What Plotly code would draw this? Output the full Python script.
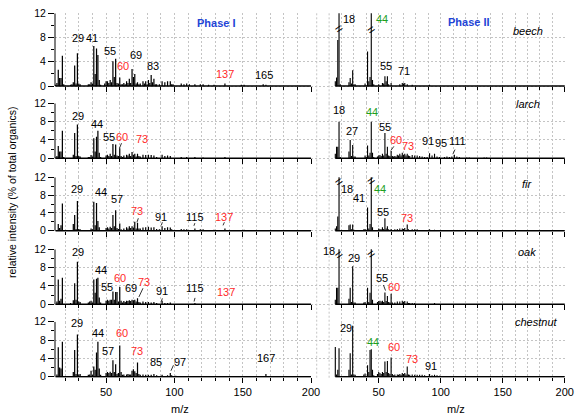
import plotly.graph_objects as go

W, H = 576, 417

# ---------------- data: m/z and relative intensity (% of total organics) ----------------
mz_beech_I = [13, 14, 15, 16, 17, 18, 19, 24, 25, 26, 27, 28, 29, 30, 31, 37, 38, 39, 40, 41, 42, 43, 44, 45, 46,
              49, 50, 51, 52, 53, 54, 55, 56, 57, 58, 59, 60, 61, 62, 63, 64, 65, 66, 67, 68, 69, 70, 71, 72, 73,
              74, 75, 77, 78, 79, 80, 81, 82, 83, 84, 85, 86, 87, 89, 91, 93, 95, 97, 98, 99, 105, 107, 109, 111,
              115, 119, 121, 125, 129, 137, 149, 151, 165, 167]
int_beech_I = [0.2, 0.5, 2.7, 1.3, 1.3, 5.0, 0.3, 0.2, 0.3, 0.6, 3.4, 0.4, 5.4, 0.4, 0.3, 0.3, 0.3, 0.6, 0.4, 6.6,
               2.0, 6.2, 5.1, 1.0, 0.2, 0.4, 0.8, 0.8, 0.5, 1.0, 0.6, 4.1, 1.5, 4.5, 0.5, 0.4, 1.4, 0.3, 0.3, 0.5,
               0.3, 0.8, 0.5, 1.2, 0.5, 2.8, 1.5, 2.0, 0.4, 0.6, 0.3, 0.4, 0.8, 0.4, 0.8, 0.3, 1.0, 0.5, 1.8, 0.6,
               1.2, 0.3, 0.3, 0.3, 0.8, 0.6, 0.8, 0.8, 0.3, 0.3, 0.4, 0.3, 0.4, 0.3, 0.3, 0.3, 0.3, 0.2, 0.2, 0.4,
               0.2, 0.2, 0.3, 0.2]

mz_larch_I = [13, 14, 15, 16, 17, 18, 19, 26, 27, 28, 29, 30, 31, 37, 38, 39, 40, 41, 42, 43, 44, 45, 46, 50, 51,
              52, 53, 54, 55, 56, 57, 58, 59, 60, 61, 62, 63, 65, 66, 67, 68, 69, 70, 71, 72, 73, 74, 75, 77, 79,
              81, 83, 85, 87, 91, 93, 95, 97, 105, 109, 115, 121, 137]
int_larch_I = [0.2, 0.5, 2.7, 1.5, 1.5, 6.0, 0.3, 0.8, 5.5, 0.5, 7.4, 0.5, 0.4, 0.3, 0.3, 0.7, 0.4, 4.4, 1.5, 4.7,
               6.0, 1.2, 0.3, 0.6, 0.8, 0.5, 1.0, 0.5, 3.1, 0.8, 3.0, 0.6, 0.5, 2.2, 0.5, 0.3, 0.6, 0.8, 0.6, 1.0,
               0.5, 1.4, 0.8, 1.0, 0.4, 1.0, 0.5, 0.4, 0.8, 0.7, 0.8, 0.7, 0.6, 0.3, 0.8, 0.5, 0.6, 0.5, 0.3, 0.3,
               0.3, 0.2, 0.3]

mz_fir_I = [15, 16, 17, 18, 26, 27, 28, 29, 30, 31, 39, 40, 41, 42, 43, 44, 45, 50, 51, 52, 53, 54, 55, 56, 57,
            58, 59, 60, 61, 63, 65, 66, 67, 68, 69, 70, 71, 72, 73, 74, 75, 77, 79, 81, 83, 85, 87, 89, 91, 93,
            95, 97, 98, 105, 107, 109, 115, 119, 121, 129, 137, 151]
int_fir_I = [1.5, 0.6, 1.2, 6.1, 1.5, 3.5, 0.4, 6.7, 0.4, 0.3, 0.5, 0.3, 6.5, 1.2, 6.2, 2.2, 0.8, 0.6, 0.8, 0.5,
             0.9, 0.6, 3.5, 1.0, 4.6, 0.6, 0.4, 1.6, 0.3, 0.5, 0.8, 0.5, 1.0, 0.6, 1.0, 0.7, 2.0, 0.5, 1.8, 0.5,
             0.5, 0.7, 0.8, 0.9, 0.7, 0.8, 0.4, 0.3, 1.0, 0.6, 0.8, 0.7, 0.3, 0.4, 0.3, 0.3, 0.5, 0.3, 0.3, 0.2,
             0.5, 0.2]

mz_oak_I = [14, 15, 16, 17, 18, 24, 26, 27, 28, 29, 30, 31, 37, 38, 39, 40, 41, 42, 43, 44, 45, 46, 50, 51, 52,
            53, 54, 55, 56, 57, 58, 59, 60, 61, 62, 63, 64, 65, 66, 67, 68, 69, 70, 71, 72, 73, 74, 75, 77, 79,
            81, 83, 85, 87, 91, 93, 95, 97, 115]
int_oak_I = [0.6, 5.4, 0.8, 1.2, 5.8, 0.3, 0.9, 4.6, 1.0, 9.3, 0.6, 0.5, 0.4, 0.6, 0.8, 0.4, 5.4, 2.5, 5.6, 5.8,
             1.5, 0.4, 0.8, 1.0, 0.8, 1.0, 1.0, 2.8, 1.0, 2.7, 2.7, 0.6, 3.8, 0.8, 0.4, 0.7, 0.5, 0.8, 0.7, 0.9,
             0.7, 1.0, 0.9, 1.0, 0.6, 1.3, 0.5, 0.4, 0.6, 0.5, 0.5, 0.4, 0.5, 0.3, 0.8, 0.3, 0.3, 0.4, 0.3]

mz_chestnut_I = [14, 15, 16, 17, 18, 26, 27, 28, 29, 30, 31, 37, 38, 39, 40, 41, 42, 43, 44, 45, 46, 50, 51, 52,
                 53, 54, 55, 56, 57, 58, 59, 60, 61, 62, 63, 65, 66, 67, 68, 69, 70, 71, 72, 73, 74, 75, 77, 79,
                 81, 83, 85, 87, 91, 95, 97, 98, 101, 167]
int_chestnut_I = [0.5, 6.4, 2.0, 1.8, 7.6, 1.0, 5.8, 0.6, 9.2, 0.5, 0.6, 0.4, 0.5, 1.3, 0.4, 2.2, 1.5, 5.3, 7.6,
                  1.8, 0.4, 0.8, 1.0, 0.8, 1.1, 0.8, 3.6, 1.0, 2.7, 0.6, 0.8, 6.8, 1.0, 0.4, 0.5, 0.5, 0.6, 0.5,
                  0.5, 1.3, 1.6, 1.2, 0.8, 3.1, 0.6, 0.4, 0.5, 0.4, 0.4, 0.4, 0.6, 0.3, 0.4, 0.3, 0.8, 0.3, 0.2,
                  0.6]

mz_beech_II = [15, 16, 17, 18, 19, 26, 27, 28, 29, 30, 31, 39, 41, 42, 43, 44, 45, 46, 50, 53, 54, 55, 56, 57,
               58, 60, 67, 69, 70, 71, 73, 77, 91]
int_beech_II = [0.8, 1.4, 7.6, 30.0, 0.3, 0.6, 1.3, 0.4, 2.6, 0.3, 0.3, 0.4, 5.7, 0.8, 1.5, 30.0, 1.0, 0.3, 0.3,
                0.5, 0.4, 1.6, 0.8, 1.6, 0.3, 0.5, 0.3, 0.5, 0.4, 0.5, 0.3, 0.2, 0.2]

mz_larch_II = [15, 16, 17, 18, 19, 26, 27, 28, 29, 30, 31, 39, 40, 41, 42, 43, 44, 45, 46, 49, 50, 51, 52, 53,
               54, 55, 56, 57, 58, 59, 60, 61, 62, 63, 64, 65, 66, 67, 68, 69, 70, 71, 72, 73, 74, 75, 77, 79,
               81, 83, 85, 87, 89, 91, 93, 95, 97, 99, 103, 105, 107, 109, 111, 113, 115, 121, 123, 135, 137]
int_larch_II = [1.0, 2.5, 2.5, 8.0, 0.3, 1.5, 4.0, 0.5, 2.9, 0.4, 0.4, 0.6, 0.3, 2.8, 0.6, 1.2, 8.0, 1.2, 0.3,
                0.4, 0.6, 0.7, 0.5, 1.0, 0.6, 5.5, 1.0, 2.5, 0.6, 0.5, 1.6, 0.5, 0.4, 0.5, 0.4, 0.8, 0.6, 1.0,
                0.6, 1.2, 0.8, 1.0, 0.6, 1.0, 0.6, 0.5, 0.7, 0.6, 0.6, 0.5, 0.4, 0.3, 0.3, 1.1, 0.6, 1.0, 0.4,
                0.3, 0.3, 0.4, 0.3, 0.4, 0.8, 0.4, 0.3, 0.2, 0.2, 0.2, 0.2]

mz_fir_II = [15, 16, 17, 18, 26, 27, 28, 29, 30, 38, 39, 41, 42, 43, 44, 45, 50, 51, 52, 53, 54, 55, 56, 57, 58,
             60, 63, 65, 67, 69, 70, 71, 73, 74, 77, 79, 81, 91, 95]
int_fir_II = [0.5, 1.0, 3.2, 30.0, 1.2, 1.4, 0.3, 1.4, 0.2, 0.3, 0.4, 5.2, 0.5, 1.5, 30.0, 0.8, 0.5, 0.4, 0.3,
              0.8, 0.4, 2.8, 0.5, 1.0, 0.3, 0.4, 0.3, 0.4, 0.5, 0.5, 0.4, 0.6, 1.4, 0.3, 0.3, 0.3, 0.3, 0.3, 0.2]

mz_oak_II = [15, 16, 17, 18, 26, 27, 28, 29, 30, 31, 38, 39, 41, 42, 43, 44, 45, 49, 50, 51, 52, 53, 54, 55, 56,
             57, 58, 59, 60, 61, 63, 65, 67, 69, 70, 71, 73, 74, 75, 77, 79, 95]
int_oak_II = [1.0, 3.6, 3.6, 30.0, 1.2, 3.6, 0.5, 8.3, 0.4, 0.4, 0.4, 0.5, 3.6, 0.5, 2.5, 30.0, 1.0, 0.5, 0.7,
              0.8, 0.6, 0.8, 0.5, 2.6, 0.7, 1.8, 0.5, 0.4, 2.3, 0.4, 0.4, 0.6, 0.6, 0.8, 0.5, 0.7, 0.6, 0.3,
              0.3, 0.3, 0.3, 0.3]

mz_chestnut_II = [15, 16, 17, 18, 26, 27, 28, 29, 30, 31, 38, 39, 41, 42, 43, 44, 45, 46, 49, 50, 51, 52, 53, 54,
                  55, 56, 57, 58, 59, 60, 61, 62, 63, 65, 66, 67, 68, 69, 70, 71, 72, 73, 74, 75, 77, 79, 81, 83,
                  85, 87, 91, 93, 95, 97, 99]
int_chestnut_II = [6.5, 0.5, 1.5, 6.2, 1.5, 5.1, 0.5, 11.1, 0.5, 0.4, 0.5, 0.7, 2.5, 1.0, 5.8, 6.0, 1.5, 0.3, 0.6,
                   1.0, 0.8, 0.6, 1.0, 0.8, 3.3, 1.0, 3.4, 0.8, 0.6, 4.2, 0.6, 0.3, 0.5, 0.5, 0.4, 0.6, 0.4, 0.8,
                   0.6, 0.8, 0.5, 2.2, 0.5, 0.4, 0.5, 0.4, 0.4, 0.4, 0.4, 0.3, 0.6, 0.3, 0.4, 0.3, 0.2]

woods = ["beech", "larch", "fir", "oak", "chestnut"]
spectra = [
    [(mz_beech_I, int_beech_I), (mz_beech_II, int_beech_II)],
    [(mz_larch_I, int_larch_I), (mz_larch_II, int_larch_II)],
    [(mz_fir_I, int_fir_I), (mz_fir_II, int_fir_II)],
    [(mz_oak_I, int_oak_I), (mz_oak_II, int_oak_II)],
    [(mz_chestnut_I, int_chestnut_I), (mz_chestnut_II, int_chestnut_II)],
]

# peak labels: (text, m/z position, intensity position, colour key)
labels = [
    [[("29", 29.7, 8.0, "k"), ("41", 39.5, 8.0, "k"), ("55", 52.9, 5.7, "k"), ("60", 62.7, 3.35, "r"),
      ("69", 71.7, 5.1, "k"), ("83", 84.6, 3.3, "k"), ("137", 136.7, 2.0, "r"), ("165", 165.3, 1.8, "k")],
     [("18", 26.0, 11.05, "k"), ("44", 52.9, 11.05, "g"), ("55", 55.6, 3.3, "k"), ("71", 70.4, 2.4, "k")]],
    [[("29", 29.7, 9.2, "k"), ("44", 43.6, 7.5, "k"), ("55", 52.4, 4.7, "k"), ("60", 61.9, 4.7, "r"),
      ("73", 76.1, 4.2, "r")],
     [("18", 18.0, 10.5, "k"), ("44", 44.4, 10.0, "g"), ("27", 28.7, 6.0, "k"), ("55", 55.1, 6.9, "k"),
      ("60", 63.7, 4.0, "r"), ("73", 73.9, 2.75, "r"), ("91", 90.0, 3.8, "k"), ("95", 100.0, 3.3, "k"),
      ("111", 113.7, 3.8, "k")]],
    [[("29", 28.9, 9.4, "k"), ("44", 46.3, 8.8, "k"), ("57", 57.8, 7.1, "k"), ("73", 72.9, 4.5, "r"),
      ("91", 90.1, 3.1, "k"), ("115", 115.2, 3.1, "k"), ("137", 136.5, 3.0, "r")],
     [("18", 24.7, 9.4, "k"), ("41", 34.4, 7.3, "k"), ("44", 51.0, 9.4, "g"), ("55", 53.7, 4.3, "k"),
      ("73", 73.1, 2.9, "r")]],
    [[("29", 29.7, 11.35, "k"), ("44", 46.3, 7.5, "k"), ("55", 51.0, 3.85, "k"), ("60", 60.2, 5.8, "r"),
      ("69", 68.1, 3.5, "k"), ("73", 77.8, 4.8, "r"), ("91", 90.8, 2.9, "k"), ("115", 115.2, 3.5, "k"),
      ("137", 138.0, 2.75, "r")],
     [("18", 10.2, 11.6, "k"), ("29", 30.1, 10.2, "k"), ("44", 51.0, 12.2, "g"), ("55", 52.4, 5.7, "k"),
      ("60", 62.6, 3.7, "r")]],
    [[("29", 28.9, 11.8, "k"), ("44", 43.9, 9.6, "k"), ("60", 61.5, 9.6, "r"), ("57", 51.7, 5.5, "k"),
      ("73", 72.9, 5.5, "r"), ("85", 86.4, 3.3, "k"), ("97", 104.2, 3.3, "k"), ("167", 167.3, 4.0, "k")],
     [("29", 23.4, 10.6, "k"), ("44", 45.2, 7.6, "g"), ("60", 62.3, 6.4, "r"), ("73", 76.6, 3.8, "r"),
      ("91", 91.9, 2.3, "k")]],
]
# short leader lines from a label to its peak: (row, col, x0, y0, x1, y1)
leaders = [
    (1, 0, 59.8, 2.2, 61.3, 3.3), (2, 0, 72.6, 1.9, 73.6, 2.8), (2, 0, 90.4, 1.2, 91.2, 1.9),
    (2, 0, 114.3, 1.1, 115.0, 1.7), (2, 0, 135.6, 1.2, 136.6, 1.9), (3, 0, 74.0, 1.6, 77.0, 3.5),
    (3, 0, 90.4, 0.6, 91.2, 1.3), (3, 0, 114.4, 0.6, 115.1, 1.4), (4, 0, 97.5, 1.3, 99.3, 2.5),
    (1, 1, 59.8, 1.7, 62.2, 2.6), (1, 1, 109.8, 0.9, 111.5, 1.9), (3, 1, 55.5, 3.0, 53.8, 4.2),
]
# off-scale peaks with axis breaks (row, m/z, break height)
breaks = [(0, 18, 9.5), (0, 44, 9.4), (2, 18, 11.0), (2, 44, 11.3), (3, 18, 10.8), (3, 44, 11.1)]
wood_pos = [(170.4, 9.1), (170.4, 11.8), (169.6, 10.5), (169.6, 11.4), (176.9, 12.0)]

# ---------------- layout geometry (pixels) ----------------
colors = {"k": "black", "r": "#ff2a2a", "g": "#1fa01f"}
FONT = "Liberation Sans, Arial, sans-serif"
GRID = "#c4c4c4"
col_px = [(55, 311), (311, 565)]
x_ranges = [[12.6, 200], [-4.6, 200.2]]
data_start = [13, 15]
row_top = [13.3, 103.3, 177.3, 249.3, 321.7]
row_zero = [86.0, 158.3, 230.7, 304.3, 376.7]
row_bot = row_top[1:] + [row_zero[-1] + 1.0]


def suffix(n):
    return "" if n == 1 else str(n)


fig = go.Figure()
layout = dict(width=W, height=H, margin=dict(l=0, r=0, t=0, b=0, pad=0, autoexpand=False), showlegend=False,
              template="none", autosize=False,
              plot_bgcolor="white", paper_bgcolor="white", font=dict(family=FONT, size=11, color="black"))
shapes, annotations = [], []

for r in range(5):
    scale = (row_zero[r] - row_top[r]) / 12.0
    ymin = -(row_bot[r] - row_zero[r]) / scale
    for c in range(2):
        n = r * 2 + c + 1
        s = suffix(n)
        xa, ya = "x" + s, "y" + s
        xk, yk = "xaxis" + s, "yaxis" + s
        mz, inten = spectra[r][c]
        fig.add_trace(go.Bar(x=mz, y=inten, width=0.9, marker=dict(color="black", line=dict(width=0)),
                             xaxis=xa, yaxis=ya, hoverinfo="x+y"))
        minor_vals = [v for v in range(20, 200, 10) if v % 50]
        layout[xk] = dict(domain=[col_px[c][0] / W, col_px[c][1] / W], range=x_ranges[c], automargin=False,
                          anchor="free", position=1 - row_zero[r] / H,
                          tickmode="array", tickvals=[50, 100, 150, 200],
                          showticklabels=(r == 4), ticks="outside", ticklen=5, tickcolor="black",
                          tickfont=dict(size=11), showline=False, zeroline=False,
                          showgrid=True, gridcolor=GRID, griddash="2px,2px", gridwidth=1,
                          minor=dict(tickmode="array", tickvals=minor_vals, ticks="outside", ticklen=3,
                                     tickcolor="black", showgrid=True, gridcolor=GRID, griddash="2px,2px"))
        layout[yk] = dict(domain=[1 - row_bot[r] / H, 1 - row_top[r] / H], range=[ymin, 12], automargin=False,
                          anchor=xa, tickmode="array", tickvals=[0, 4, 8, 12],
                          showticklabels=(c == 0), ticks="outside" if c == 0 else "", ticklen=6,
                          tickcolor="black", tickfont=dict(size=10.5), showline=False, zeroline=False,
                          showgrid=True, gridcolor=GRID, griddash="2px,2px")
        if c == 0:
            layout[yk]["minor"] = dict(tickmode="array", tickvals=[2, 6, 10], ticks="outside", ticklen=3,
                                       tickcolor="black", showgrid=False)
            shapes.append(dict(type="line", xref=xa + " domain", yref=ya, x0=0, x1=0, y0=0, y1=12,
                               line=dict(color="black", width=1)))
        else:
            for gx in (0, 10):
                shapes.append(dict(type="line", xref=xa, yref=ya + " domain", x0=gx, x1=gx, y0=0, y1=1,
                                   layer="below", line=dict(color=GRID, width=1, dash="2px,2px")))
        shapes.append(dict(type="line", xref=xa, yref=ya, x0=data_start[c], x1=200, y0=0, y1=0,
                           line=dict(color="black", width=1.5)))
        for (t, lx, ly, ck) in labels[r][c]:
            annotations.append(dict(text=t, x=lx, y=ly, xref=xa, yref=ya, showarrow=False,
                                    font=dict(size=11, color=colors[ck]), xanchor="center", yanchor="middle"))
    # wood name
    wx, wy = wood_pos[r]
    s2 = suffix(r * 2 + 2)
    annotations.append(dict(text=f"<i>{woods[r]}</i>", x=wx, y=wy, xref="x" + s2, yref="y" + s2,
                            showarrow=False, font=dict(size=11), xanchor="center", yanchor="middle"))

for (r, c, x0, y0, x1, y1) in leaders:
    s = suffix(r * 2 + c + 1)
    shapes.append(dict(type="line", xref="x" + s, yref="y" + s, x0=x0, y0=y0, x1=x1, y1=y1,
                       line=dict(color="black", width=0.8)))

for (r, bx, by) in breaks:
    s2 = suffix(r * 2 + 2)
    annotations.append(dict(text="=", x=bx, y=by, xref="x" + s2, yref="y" + s2, showarrow=False,
                            textangle=-35, font=dict(size=13, color="black"), xanchor="center",
                            yanchor="middle"))

annotations.append(dict(text="<b>Phase I</b>", x=130.6, y=10.4, xref="x", yref="y", showarrow=False,
                        xanchor="center", yanchor="middle", font=dict(size=11, color="#1f45d6")))
annotations.append(dict(text="<b>Phase II</b>", x=122.8, y=10.5, xref="x2", yref="y2", showarrow=False,
                        xanchor="center", yanchor="middle", font=dict(size=11, color="#1f45d6")))
annotations.append(dict(text="m/z", x=180 / W, y=1 - 409 / H, xref="paper", yref="paper", showarrow=False,
                        xanchor="center", yanchor="middle", font=dict(size=11)))
annotations.append(dict(text="m/z", x=456 / W, y=1 - 409 / H, xref="paper", yref="paper", showarrow=False,
                        xanchor="center", yanchor="middle", font=dict(size=11)))
annotations.append(dict(text="relative intensity (% of total organics)", x=12 / W, y=1 - 192 / H,
                        xref="paper", yref="paper", showarrow=False, textangle=-90,
                        xanchor="center", yanchor="middle", font=dict(size=10.5)))

layout["shapes"] = shapes
layout["annotations"] = annotations
fig.update_layout(**layout)
fig.write_html("out.html", config={"displayModeBar": False, "staticPlot": True},
               post_script="document.body.style.margin='0';document.body.style.overflow='hidden';")
